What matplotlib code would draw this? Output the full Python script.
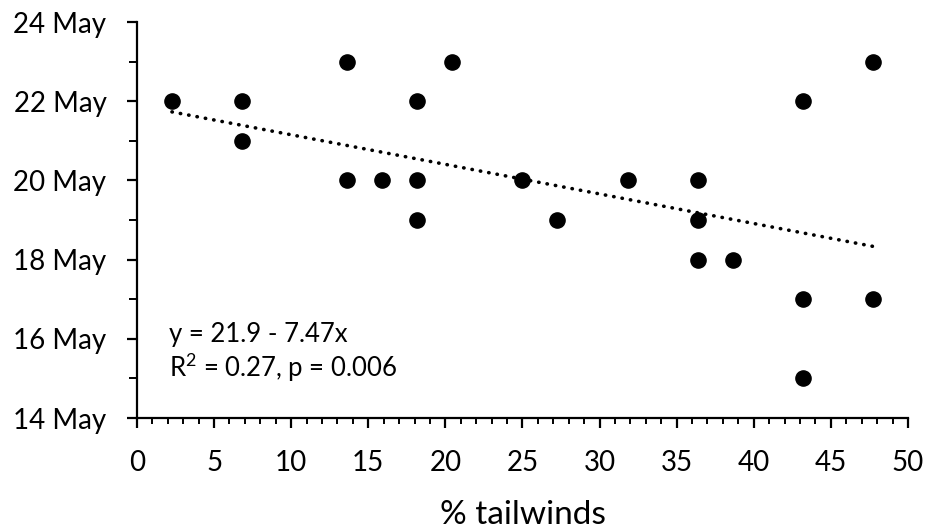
import numpy as np
import matplotlib
matplotlib.use("Agg")
import matplotlib.pyplot as plt
from matplotlib.ticker import MultipleLocator, FuncFormatter

# ---------- DATA ----------
tailwinds = [2.27, 6.82, 6.82, 13.64, 13.64, 15.91, 18.18, 18.18, 18.18, 20.45,
             25.0, 27.27, 31.82, 36.36, 36.36, 36.36, 38.64, 43.18, 43.18, 43.18,
             47.73, 47.73]
day_may = [22, 22, 21, 23, 20, 20, 22, 20, 19, 23,
           20, 19, 20, 20, 19, 18, 18, 22, 17, 15,
           23, 17]
fit_intercept = 21.9
fit_slope = -7.47   # per proportion of tailwinds
eq_text = "y = 21.9 - 7.47x"
stats_text = "R$^2$ = 0.27, p = 0.006"

plt.rcParams['font.family'] = ['Lato', 'DejaVu Sans']
plt.rcParams['mathtext.default'] = 'regular'

fig = plt.figure(figsize=(9.28, 5.28), dpi=100)
ax = fig.add_axes([0.1476, 0.2083, 0.8308, 0.75])

ax.scatter(tailwinds, day_may, s=120, color='black', zorder=3)

# ---------- TREND LINE ----------
xs = np.array([min(tailwinds), max(tailwinds)])
ys = fit_intercept + fit_slope * xs / 100
ax.plot(xs, ys, color='black', lw=2.6, linestyle=(0, (0.1, 2.25)),
        dash_capstyle='round', zorder=2)

ax.text(2.1, 15.92, eq_text, fontsize=18.5, va='baseline')
ax.text(2.1, 15.04, stats_text, fontsize=18.5, va='baseline')

# ---------- AXES ----------
ax.set_xlim(0, 50)
ax.set_ylim(14, 24)
ax.xaxis.set_major_locator(MultipleLocator(5))
ax.xaxis.set_minor_locator(MultipleLocator(1))
ax.yaxis.set_major_locator(MultipleLocator(2))
ax.yaxis.set_minor_locator(MultipleLocator(1))
ax.yaxis.set_major_formatter(FuncFormatter(lambda v, p: f"{int(v)} May"))

for s in ['top', 'right']:
    ax.spines[s].set_visible(False)
for s in ['left', 'bottom']:
    ax.spines[s].set_linewidth(1.6)

ax.tick_params(which='major', length=7, width=1.6, labelsize=20)
ax.tick_params(axis='x', which='major', pad=16)
ax.tick_params(axis='y', which='major', pad=15)
ax.tick_params(which='minor', length=4, width=1.4)
ax.tick_params(axis='y', which='minor', length=5.5)

ax.set_xlabel("% tailwinds", fontsize=24, labelpad=17)

fig.savefig("out.png", dpi=100)
plt.close(fig)
